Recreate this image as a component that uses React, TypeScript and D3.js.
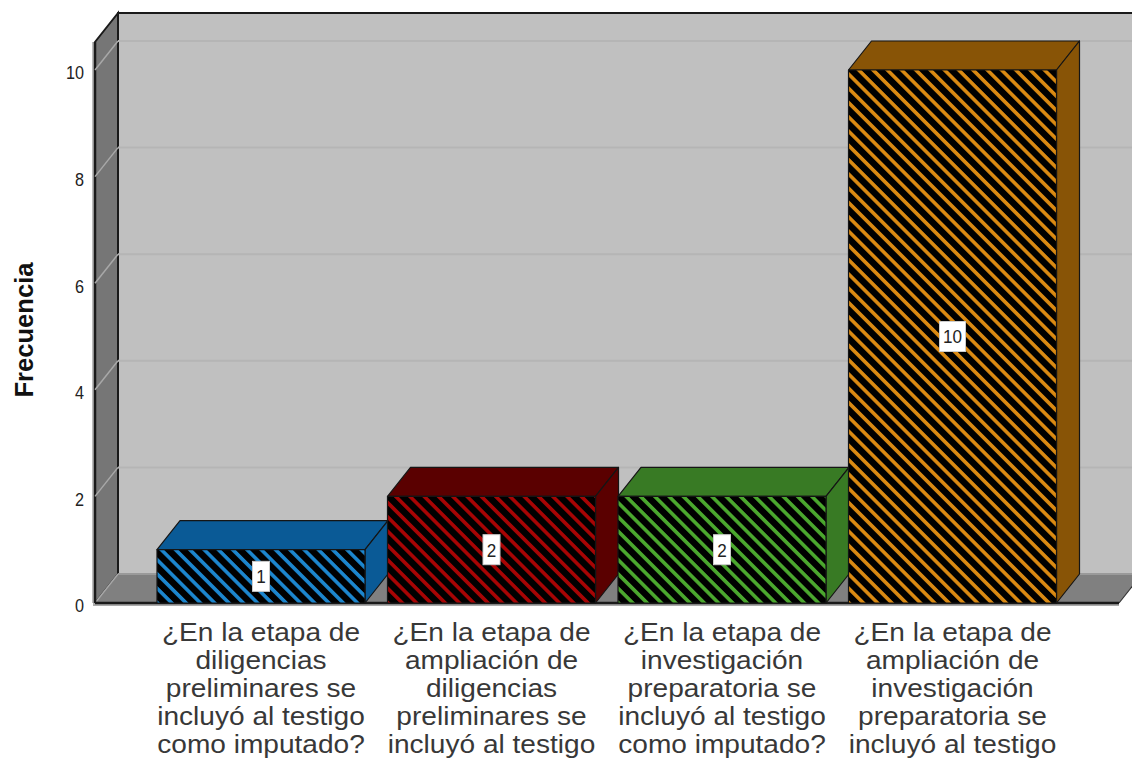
import React from "react";
import * as d3 from "d3";

const categories = ["diligencias", "ampliacion-diligencias", "investigacion", "ampliacion-investigacion"];
const values = [1, 2, 2, 10];
const categoryLabels = [
  ["¿En la etapa de", "diligencias", "preliminares se", "incluyó al testigo", "como imputado?"],
  ["¿En la etapa de", "ampliación de", "diligencias", "preliminares se", "incluyó al testigo"],
  ["¿En la etapa de", "investigación", "preparatoria se", "incluyó al testigo", "como imputado?"],
  ["¿En la etapa de", "ampliación de", "investigación", "preparatoria se", "incluyó al testigo"],
];
const stripeColors = ["#1C86CE", "#A80404", "#4BA82E", "#DB8A12"];
const sideColors = ["#0A5A96", "#5A0000", "#387A24", "#885406"];
const yTicks = [0, 2, 4, 6, 8, 10];
const yTitle = "Frecuencia";

const W = 1132, H = 760;
const DX = 23, DY = -29;
const font = "'Liberation Sans', Arial, sans-serif";
const ink = "#1a1a1a";

export default function App() {
  const y = d3.scaleLinear().domain([0, 10]).range([603, 70]);
  const x = d3.scaleBand<string>().domain(categories).range([145.75, 1067.75]).paddingInner(0.0976).paddingOuter(0.0488);
  const left = 95, right = 1119, top = 42, bottom = y(0);
  const bw = x.bandwidth();
  const poly = (pts: number[][]) => pts.map((p) => p.join(",")).join(" ");

  return (
    <svg width={W} height={H} style={{ position: "absolute", left: 0, top: 0, background: "#fff" }} fontFamily={font}>
      <defs>
        {stripeColors.map((c, i) => (
          <pattern key={i} id={`hatch${i}`} patternUnits="userSpaceOnUse" width={10.1} height={10.1} patternTransform={`translate(${x(categories[i])},0) rotate(45)`}>
            <rect width={10.1} height={10.1} fill="#000" />
            <rect y={0} width={10.1} height={3.6} fill={c} />
          </pattern>
        ))}
      </defs>

      {/* walls and floor */}
      <rect x={left + DX} y={top + DY} width={W} height={bottom - top} fill="#C0C0C0" stroke={ink} strokeWidth={2} />
      <polygon points={poly([[left, top], [left + DX, top + DY], [left + DX, bottom + DY], [left, bottom]])} fill="#767676" stroke={ink} strokeWidth={2} />
      <polygon points={poly([[left, bottom], [left + DX, bottom + DY], [right + DX, bottom + DY], [right, bottom]])} fill="#808080" />
      <line x1={left + DX} x2={W} y1={bottom + DY} y2={bottom + DY} stroke="#9a9a9a" strokeWidth={2} />
      <line x1={left} x2={left + DX} y1={bottom} y2={bottom + DY} stroke="#a8a8a8" strokeWidth={1.5} />
      <line x1={right} x2={right + DX} y1={bottom} y2={bottom + DY} stroke="#333" strokeWidth={1.2} />
      <line x1={left - 2} x2={right} y1={bottom + 1.5} y2={bottom + 1.5} stroke="#aaa" strokeWidth={3} />
      <line x1={left - 2} x2={left - 2} y1={top} y2={bottom} stroke="#bbb" strokeWidth={2} />
      <line x1={left} x2={right} y1={bottom} y2={bottom} stroke={ink} strokeWidth={2.5} />
      <line x1={left} x2={left} y1={top} y2={bottom} stroke={ink} strokeWidth={2.5} />

      {/* gridlines */}
      {yTicks.filter((t) => t > 0).map((t) => (
        <g key={t}>
          <line x1={left + DX} x2={W} y1={y(t) + DY} y2={y(t) + DY} stroke="#B5B5B5" strokeWidth={2} />
          <line x1={left} x2={left + DX} y1={y(t)} y2={y(t) + DY} stroke="#A8A8A8" strokeWidth={1.5} />
        </g>
      ))}

      {/* ticks */}
      {yTicks.map((t) => (
        <text key={t} transform={`translate(84,${y(t) + 3}) scale(0.9,1)`} dy="0.36em" textAnchor="end" fontSize={18} fill="#222">{t}</text>
      ))}
      <text transform="translate(33,330) rotate(-90)" textAnchor="middle" fontSize={26} fontWeight="bold" fill="#111" textLength={135} lengthAdjust="spacingAndGlyphs">{yTitle}</text>

      {/* bars */}
      {categories.map((c, i) => {
        const x0 = x(c)!, x1 = x0 + bw, yt = y(values[i]);
        return (
          <g key={c} stroke="#151515" strokeWidth={1.2} strokeLinejoin="round">
            <polygon points={poly([[x0, yt], [x0 + DX, yt + DY], [x1 + DX, yt + DY], [x1, yt]])} fill={sideColors[i]} />
            <polygon points={poly([[x1, yt], [x1 + DX, yt + DY], [x1 + DX, bottom + DY], [x1, bottom]])} fill={sideColors[i]} />
            <rect x={x0} y={yt} width={bw} height={bottom - yt} fill={`url(#hatch${i})`} />
          </g>
        );
      })}

      {/* value labels */}
      {categories.map((c, i) => {
        const cx = x(c)! + bw / 2, cy = (y(values[i]) + bottom) / 2;
        const w = values[i] >= 10 ? 26 : 17;
        return (
          <g key={c}>
            <rect x={cx - w / 2} y={cy - 15} width={w} height={30} fill="#fff" stroke="#ccc" strokeWidth={1} />
            <text transform={`translate(${cx},${cy}) scale(0.9,1)`} dy="0.36em" textAnchor="middle" fontSize={19} fill="#222">{values[i]}</text>
          </g>
        );
      })}

      {/* category labels */}
      {categories.map((c, i) => (
        <text key={c} transform={`translate(${x(c)! + bw / 2},0) scale(1.08,1)`} textAnchor="middle" fontSize={26} fill="#383838">
          {categoryLabels[i].map((l, j) => (
            <tspan key={j} x={0} y={641.5 + j * 28}>{l}</tspan>
          ))}
        </text>
      ))}
    </svg>
  );
}
